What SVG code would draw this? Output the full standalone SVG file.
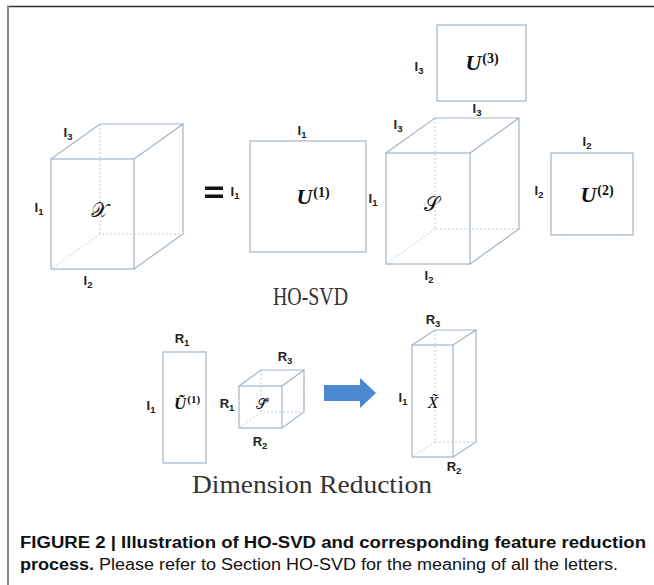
<svg xmlns="http://www.w3.org/2000/svg" width="654" height="585" viewBox="0 0 654 585">
<style>
.frame-top{stroke:#333;stroke-width:1.6;fill:none}
.frame-left{stroke:#8a8a8a;stroke-width:2;fill:none}
.edge{stroke:#a3b5c8;stroke-width:1.2;fill:none}
.hid{stroke:#b5c6d8;stroke-width:0.9;fill:none;stroke-dasharray:2 2}
.lbl{font-family:"Liberation Sans",Arial,sans-serif;font-weight:bold;font-size:13px;fill:#222;text-anchor:middle}
.sub{font-size:9.5px}
.math{font-family:"Liberation Serif","DejaVu Serif",serif;font-weight:bold;font-style:italic;font-size:22px;fill:#111;text-anchor:middle}
.sup{font-style:normal;font-size:14px}
.mathS{font-family:"DejaVu Serif","DejaVu Sans",serif;font-size:20px;fill:#111;text-anchor:middle}
.mathsm{font-family:"Liberation Serif","DejaVu Serif",serif;font-weight:bold;font-style:italic;font-size:17px;fill:#111;text-anchor:middle}
.supsm{font-style:normal;font-size:11px}
.title{font-family:"Liberation Serif","Times New Roman",serif;font-size:26px;fill:#333}
.cap{font-family:"Liberation Sans",Arial,sans-serif;font-size:16px;fill:#111}
.b{font-weight:bold}
</style>
<line class="frame-top" x1="7" y1="6.5" x2="654" y2="6.5"/>
<line class="frame-left" x1="8" y1="6" x2="8" y2="585"/>

<g id="tensor-X">
<path class="hid" d="M100,124 V234 H183 M100,234 L51,269"/>
<rect class="edge" x="51" y="159" width="83" height="110"/>
<path class="edge" d="M51,159 L100,124 H183 L134,159 M183,124 V234 L134,269"/>
<text class="mathS" x="99" y="217">𝒳</text>
<text class="lbl" x="68" y="137">I<tspan class="sub" dy="3">3</tspan></text>
<text class="lbl" x="39" y="212">I<tspan class="sub" dy="3">1</tspan></text>
<text class="lbl" x="88" y="285">I<tspan class="sub" dy="3">2</tspan></text>
</g>

<g id="equals">
<rect x="205" y="186.5" width="18" height="3.5" fill="#111"/>
<rect x="205" y="194.5" width="18" height="3.5" fill="#111"/>
</g>

<g id="U1">
<rect class="edge" x="250" y="141" width="116" height="111"/>
<text class="math" x="313" y="204">U<tspan class="sup" dx="1" dy="-7">(1)</tspan></text>
<text class="lbl" x="302" y="135">I<tspan class="sub" dy="3">1</tspan></text>
<text class="lbl" x="235" y="196">I<tspan class="sub" dy="3">1</tspan></text>
</g>

<g id="core-S">
<path class="hid" d="M435,118 V229 H519 M435,229 L386,264"/>
<rect class="edge" x="386" y="153" width="84" height="111"/>
<path class="edge" d="M386,153 L435,118 H519 L470,153 M519,118 V229 L470,264"/>
<text class="mathS" x="431" y="211">𝒮</text>
<text class="lbl" x="373" y="203">I<tspan class="sub" dy="3">1</tspan></text>
<text class="lbl" x="398" y="129">I<tspan class="sub" dy="3">3</tspan></text>
<text class="lbl" x="429" y="280">I<tspan class="sub" dy="3">2</tspan></text>
</g>

<g id="U3">
<rect class="edge" x="437" y="25" width="89" height="76"/>
<text class="math" x="482" y="70">U<tspan class="sup" dx="1" dy="-7">(3)</tspan></text>
<text class="lbl" x="419" y="71">I<tspan class="sub" dy="3">3</tspan></text>
<text class="lbl" x="477" y="113">I<tspan class="sub" dy="3">3</tspan></text>
</g>

<g id="U2">
<rect class="edge" x="551" y="153" width="82" height="82"/>
<text class="math" x="597" y="202">U<tspan class="sup" dx="1" dy="-7">(2)</tspan></text>
<text class="lbl" x="587" y="146">I<tspan class="sub" dy="3">2</tspan></text>
<text class="lbl" x="539" y="195">I<tspan class="sub" dy="3">2</tspan></text>
</g>

<text id="ho-svd" class="title" x="273" y="305" textLength="75" lengthAdjust="spacingAndGlyphs">HO-SVD</text>

<g id="U1-reduced">
<rect class="edge" x="163" y="352" width="43" height="111"/>
<text class="mathsm" x="187" y="409">Ũ<tspan class="supsm" dx="1" dy="-6">(1)</tspan></text>
<text class="lbl" x="182" y="343">R<tspan class="sub" dy="3">1</tspan></text>
<text class="lbl" x="151" y="410">I<tspan class="sub" dy="3">1</tspan></text>
</g>

<g id="core-S-reduced">
<path class="hid" d="M261,370 V412 H304 M261,412 L239,428"/>
<rect class="edge" x="239" y="386" width="43" height="42"/>
<path class="edge" d="M239,386 L261,370 H304 L282,386 M304,370 V412 L282,428"/>
<text class="mathS" x="262" y="409" style="font-size:15px">𝒮̃</text>
<text class="lbl" x="285" y="361">R<tspan class="sub" dy="3">3</tspan></text>
<text class="lbl" x="227" y="408">R<tspan class="sub" dy="3">1</tspan></text>
<text class="lbl" x="260" y="446">R<tspan class="sub" dy="3">2</tspan></text>
</g>

<g id="connectors">
<polygon points="324,385 360,385 360,378 376,393 360,408 360,401 324,401" fill="#4a89cf"/>
</g>

<g id="X-reduced">
<path class="hid" d="M435,330 V442 H476 M435,442 L412,457"/>
<rect class="edge" x="412" y="345" width="41" height="112"/>
<path class="edge" d="M412,345 L435,330 H476 L453,345 M476,330 V442 L453,457"/>
<text class="mathsm" x="433" y="408" style="font-weight:normal">X̃</text>
<text class="lbl" x="433" y="324">R<tspan class="sub" dy="3">3</tspan></text>
<text class="lbl" x="403" y="402">I<tspan class="sub" dy="3">1</tspan></text>
<text class="lbl" x="454" y="471">R<tspan class="sub" dy="3">2</tspan></text>
</g>

<text id="dim-red" class="title" x="192" y="493" textLength="240" lengthAdjust="spacingAndGlyphs" style="font-size:25px">Dimension Reduction</text>

<g id="caption">
<text class="cap b" x="20" y="548" textLength="626" lengthAdjust="spacingAndGlyphs">FIGURE 2 | Illustration of HO-SVD and corresponding feature reduction</text>
<text class="cap" x="20" y="570" textLength="598" lengthAdjust="spacingAndGlyphs"><tspan class="b">process.</tspan> Please refer to Section HO-SVD for the meaning of all the letters.</text>
</g>
</svg>
